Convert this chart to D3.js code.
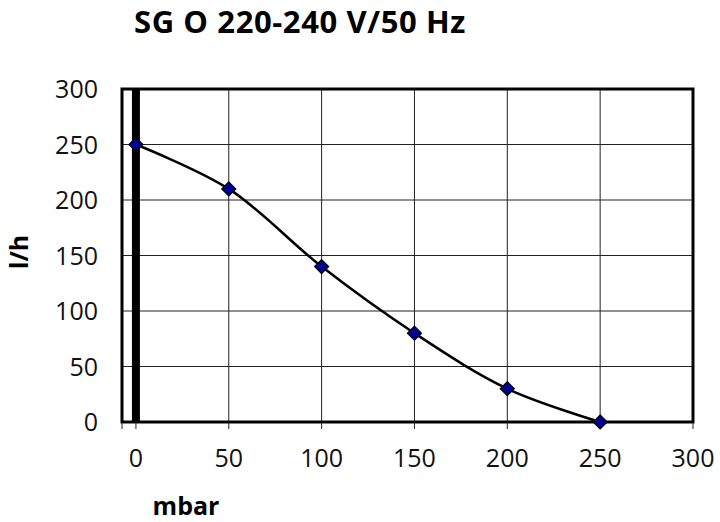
<!DOCTYPE html>
<html><head><meta charset="utf-8">
<script src="https://cdn.jsdelivr.net/npm/d3@7"></script>
<style>body{margin:0;background:#fff}svg{display:block}</style>
</head><body>
<script>
const pressure = [0, 50, 100, 150, 200, 250];
const flow = [250, 210, 140, 80, 30, 0];
const xTicks = [0, 50, 100, 150, 200, 250, 300];
const yTicks = [0, 50, 100, 150, 200, 250, 300];
const title = "SG O 220-240 V/50 Hz";
const xLabel = "mbar";
const yLabel = "l/h";

const W = 720, H = 522;
const svg = d3.select("body").append("svg").attr("width", W).attr("height", H);
const font = "'Open Sans', sans-serif";

const x = d3.scaleLinear().domain([-7.5, 300]).range([122, 693]);
const y = d3.scaleLinear().domain([0, 300]).range([422, 89]);

// gridlines
const g = svg.append("g");
g.selectAll(".vg").data(xTicks.filter(d => d > 0 && d < 300)).enter().append("line")
  .attr("x1", d => x(d)).attr("x2", d => x(d)).attr("y1", y(300)).attr("y2", y(0))
  .attr("stroke", "#222").attr("stroke-width", 1);
g.selectAll(".hg").data(yTicks.filter(d => d > 0 && d < 300)).enter().append("line")
  .attr("x1", x(-7.5)).attr("x2", x(300)).attr("y1", d => y(d)).attr("y2", d => y(d))
  .attr("stroke", "#222").attr("stroke-width", 1);

// thick line at x=0
g.append("line").attr("x1", x(0)).attr("x2", x(0)).attr("y1", y(300)).attr("y2", y(0))
  .attr("stroke", "#000").attr("stroke-width", 8);

// border
g.append("rect").attr("x", x(-7.5)).attr("y", y(300))
  .attr("width", x(300) - x(-7.5)).attr("height", y(0) - y(300))
  .attr("fill", "none").attr("stroke", "#000").attr("stroke-width", 3);

// x ticks (marks)
const tickPos = [-7.5].concat(xTicks);
g.selectAll(".xt").data(tickPos).enter().append("line")
  .attr("x1", d => x(d)).attr("x2", d => x(d)).attr("y1", y(0)).attr("y2", y(0) + 7)
  .attr("stroke", "#222").attr("stroke-width", 1);

// x tick labels
svg.selectAll(".xl").data(xTicks).enter().append("text")
  .attr("x", d => x(d)).attr("y", 467).attr("text-anchor", "middle")
  .attr("font-family", font).attr("font-size", 25).attr("fill", "#111").text(d => d);

// y tick labels
svg.selectAll(".yl").data(yTicks).enter().append("text")
  .attr("x", 98).attr("y", d => y(d) + 9).attr("text-anchor", "end")
  .attr("font-family", font).attr("font-size", 25).attr("fill", "#111").text(d => d);

// curve
const pts = pressure.map((p, i) => [p, flow[i]]);
svg.append("path").datum(pts)
  .attr("d", d3.line().x(d => x(d[0])).y(d => y(d[1])).curve(d3.curveCatmullRom.alpha(0.5)))
  .attr("fill", "none").attr("stroke", "#000").attr("stroke-width", 2.5);

// markers
svg.selectAll(".mk").data(pts).enter().append("path")
  .attr("transform", d => `translate(${x(d[0])},${y(d[1])})`)
  .attr("d", "M0,-7L7,0L0,7L-7,0Z")
  .attr("fill", "#000090").attr("stroke", "#000").attr("stroke-width", 1.2);

// title
svg.append("text").attr("x", 300).attr("y", 33).attr("text-anchor", "middle")
  .attr("font-family", font).attr("font-weight", "bold").attr("font-size", 31)
  .attr("letter-spacing", 0.6).attr("fill", "#000").text(title);

// axis labels
svg.append("text").attr("x", 186).attr("y", 515).attr("text-anchor", "middle")
  .attr("font-family", font).attr("font-weight", "bold").attr("font-size", 25)
  .attr("fill", "#000").text(xLabel);
svg.append("text").attr("transform", "translate(28,252) rotate(-90)").attr("text-anchor", "middle")
  .attr("font-family", font).attr("font-weight", "bold").attr("font-size", 25)
  .attr("fill", "#000").text(yLabel);
</script>
</body></html>
